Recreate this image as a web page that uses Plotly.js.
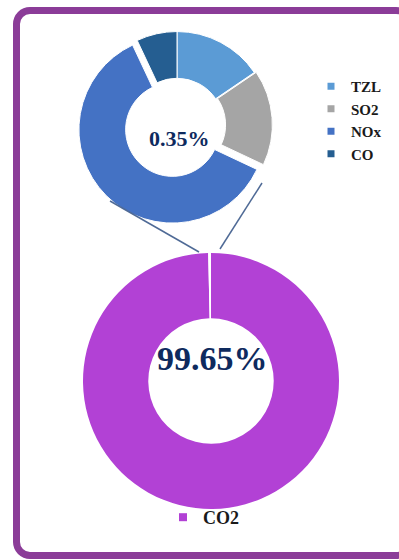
<!DOCTYPE html>
<html>
<head>
<meta charset="utf-8">
<script src="https://cdn.plot.ly/plotly-3.0.1.min.js"></script>
<style>
  html, body { margin: 0; padding: 0; background: #ffffff; }
  #wrap { position: relative; width: 399px; height: 560px; overflow: hidden; }
  #chart { position: absolute; left: 0; top: 0; width: 399px; height: 560px; }
  #frame {
    position: absolute; left: 13px; top: 7px; width: 400px; height: 552px;
    box-sizing: border-box;
    border-style: solid; border-color: #8B3C98;
    border-width: 7px 2px 7px 7px;
    border-radius: 17px;
    pointer-events: none;
  }
</style>
</head>
<body>
<div id="wrap">
  <div id="chart"></div>
  <div id="frame"></div>
</div>
<script>
// ---- data ----
const smallLabels = ['TZL', 'SO2', 'NOx', 'CO'];
const smallValues = [15.5, 16.5, 61, 7];
const smallColors = ['#5B9BD5', '#A5A5A5', '#4472C4', '#255E91'];
const smallPull = [0, 0.02, 0.07, 0];

const bigLabels = ['CO2', 'Other'];
const bigValues = [99.65, 0.35];
const bigColors = ['#B241D5', '#FFFFFF'];

const centerFont = 'Liberation Serif, Times New Roman, serif';
const navy = '#0E2A5E';

// ---- traces ----
const traces = [];

traces.push({
  type: 'pie',
  labels: smallLabels,
  values: smallValues,
  marker: { colors: smallColors, line: { color: '#ffffff', width: 1 } },
  pull: smallPull,
  hole: 0.5,
  sort: false,
  direction: 'clockwise',
  rotation: 0,
  textinfo: 'none',
  showlegend: false,
  domain: { x: [77/399, 277/399], y: [1 - 225/560, 1 - 25/560] }
});

traces.push({
  type: 'pie',
  labels: bigLabels,
  values: bigValues,
  marker: { colors: bigColors, line: { width: 0 } },
  hole: 0.49,
  sort: false,
  direction: 'clockwise',
  rotation: 0,
  textinfo: 'none',
  showlegend: false,
  domain: { x: [83/399, 339/399], y: [1 - 509/560, 1 - 253/560] }
});

// legend entries
smallLabels.forEach((lab, i) => {
  traces.push({
    type: 'scatter', mode: 'markers', x: [null], y: [null],
    name: lab, legendgroup: lab, legend: 'legend',
    marker: { symbol: 'square', size: 7, color: smallColors[i] },
    hoverinfo: 'skip'
  });
});
traces.push({
  type: 'scatter', mode: 'markers', x: [null], y: [null],
  name: bigLabels[0], legend: 'legend2',
  marker: { symbol: 'square', size: 8, color: bigColors[0] },
  hoverinfo: 'skip'
});

const lineColor = '#4F6A96';

const layout = {
  width: 399, height: 560,
  margin: { l: 0, r: 0, t: 0, b: 0 },
  paper_bgcolor: '#ffffff',
  plot_bgcolor: 'rgba(0,0,0,0)',
  xaxis: { visible: false, domain: [0, 1] },
  yaxis: { visible: false, domain: [0, 1] },
  showlegend: true,
  legend: {
    x: 311/399, xanchor: 'left', y: 1 - 70/560, yanchor: 'top',
    orientation: 'v', traceorder: 'grouped', tracegroupgap: 0,
    font: { family: centerFont, size: 15, color: '#1a1a1a', weight: 'bold' },
    bgcolor: 'rgba(0,0,0,0)'
  },
  legend2: {
    x: 163/399, xanchor: 'left', y: 1 - 499/560, yanchor: 'top',
    orientation: 'h',
    font: { family: centerFont, size: 18, color: '#1a1a1a', weight: 'bold' },
    bgcolor: 'rgba(0,0,0,0)'
  },
  annotations: [
    { xref: 'paper', yref: 'paper', x: 179/399, y: 1 - 124/560,
      text: (bigValues[1]).toFixed(2) + '%', showarrow: false,
      font: { family: centerFont, size: 22, color: navy, weight: 'bold' } },
    { xref: 'paper', yref: 'paper', x: 212/399, y: 1 - 379/560,
      text: (bigValues[0]).toFixed(2) + '%', showarrow: false,
      font: { family: centerFont, size: 34, color: navy, weight: 'bold' } }
  ],
  shapes: [
    { type: 'line', xref: 'paper', yref: 'paper',
      x0: 110/399, y0: 1 - 201/560, x1: 199/399, y1: 1 - 252/560,
      line: { color: lineColor, width: 1.5 } },
    { type: 'line', xref: 'paper', yref: 'paper',
      x0: 262/399, y0: 1 - 183/560, x1: 220/399, y1: 1 - 249/560,
      line: { color: lineColor, width: 1.5 } }
  ]
};

Plotly.newPlot('chart', traces, layout, { displayModeBar: false, staticPlot: true });
</script>
</body>
</html>
